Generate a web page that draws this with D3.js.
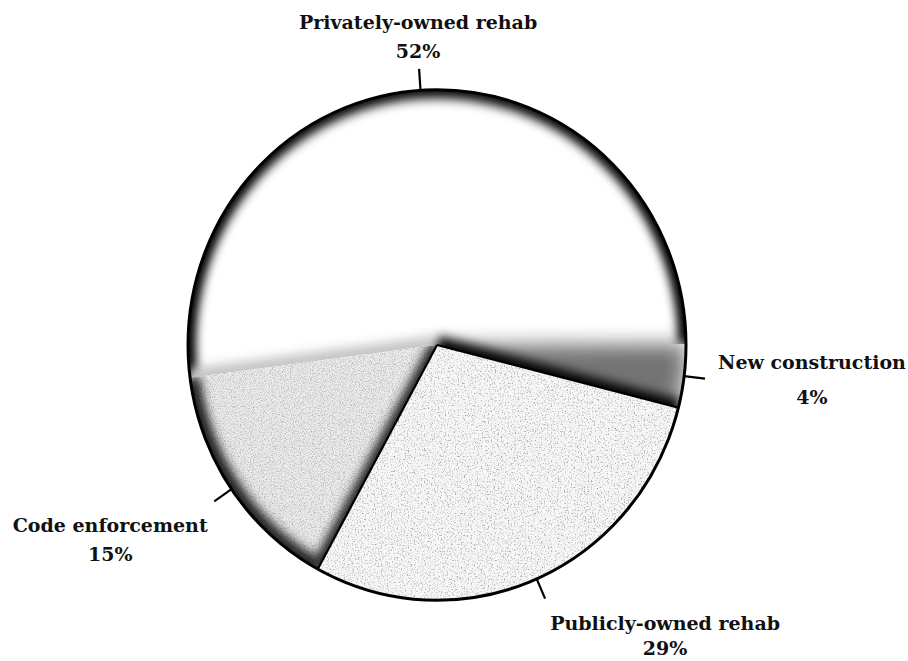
<!DOCTYPE html>
<html>
<head>
<meta charset="utf-8">
<script src="https://cdn.jsdelivr.net/npm/d3@7"></script>
<style>
  html, body { margin: 0; padding: 0; background: #fff; }
  svg { display: block; }
  .lbl { font-family: "DejaVu Serif", serif; font-weight: bold; font-size: 19px; fill: #111; }
</style>
</head>
<body>
<svg id="chart" width="908" height="661"></svg>
<script>
// Shares of units by program type (percent)
const categories = ["Privately-owned rehab", "New construction", "Publicly-owned rehab", "Code enforcement"];
const shares = [52, 4, 29, 15];
const shareLabels = ["52%", "4%", "29%", "15%"];

// Layout
const W = 908, H = 661;
const cx = 437, cy = 345, R = 249, squash = 1.025;
const startDeg = -97.4;
const tickLen = 21;
// label placement relative to each tick's outer end: [dx, dy, line gap]
const labelOffsets = [[-1, -40, 29], [107, -10, 35], [120, 31, 25], [-104, 31, 29]];

const svg = d3.select("#chart");
const defs = svg.append("defs");

const rad = d => d * Math.PI / 180;
const pie = d3.pie().sort(null).value(d => d)
  .startAngle(rad(startDeg)).endAngle(rad(startDeg) + 2 * Math.PI);
const arcs = pie(shares);
const arc = d3.arc().innerRadius(0).outerRadius(R);
const rim = d3.arc().innerRadius(R).outerRadius(R);
const pt = (a, r) => [r * Math.sin(a), -r * Math.cos(a)];

// Filters
function blurFilter(id, sd) {
  defs.append("filter").attr("id", id)
    .attr("x", "-50%").attr("y", "-50%").attr("width", "200%").attr("height", "200%")
    .append("feGaussianBlur").attr("stdDeviation", sd);
}
blurFilter("soft", 5);
blurFilter("softBig", 10);

function stipple(id, freq, k, b, grey, seed) {
  const f = defs.append("filter").attr("id", id)
    .attr("x", "0").attr("y", "0").attr("width", "100%").attr("height", "100%");
  f.append("feTurbulence").attr("type", "fractalNoise")
    .attr("baseFrequency", freq).attr("numOctaves", 3).attr("seed", seed).attr("result", "n");
  f.append("feColorMatrix").attr("in", "n").attr("type", "matrix")
    .attr("values", `0 0 0 0 ${grey}  0 0 0 0 ${grey}  0 0 0 0 ${grey}  ${k} 0 0 0 ${b}`);
}
stipple("dotsLight", 0.7, 3.0, -1.55, 0.35, 4);
stipple("dotsMid", 0.9, 2.6, -1.15, 0.45, 9);

// Clip paths for each slice
arcs.forEach((d, i) => {
  defs.append("clipPath").attr("id", "clip" + i)
    .append("path").attr("d", arc(d));
});
// union of private + new construction slices
defs.append("clipPath").attr("id", "clipPN")
  .append("path").attr("d", arc({ startAngle: arcs[0].startAngle, endAngle: arcs[1].endAngle }));

const g = svg.append("g").attr("transform", `translate(${cx},${cy}) scale(1,${squash})`);

// ---- Privately-owned rehab: white with shaded rim
const priv = arcs[0];
g.append("path").attr("d", arc(priv)).attr("fill", "#fff");
const gp = g.append("g").attr("clip-path", "url(#clip0)");
gp.append("path").attr("d", rim(priv)).attr("fill", "none")
  .attr("stroke", "#000").attr("stroke-width", 16).attr("filter", "url(#soft)");
// soft grey band along the edge shared with code enforcement
gp.append("line")
  .attr("x1", 0).attr("y1", 0)
  .attr("x2", pt(priv.startAngle, R)[0]).attr("y2", pt(priv.startAngle, R)[1])
  .attr("stroke", "#c4c4c4").attr("stroke-width", 18).attr("filter", "url(#soft)");

// ---- New construction: dark smeared wedge along the publicly-owned edge
const nc = arcs[1];
const gn = g.append("g").attr("clip-path", "url(#clipPN)");
gn.append("path").attr("d", arc(nc)).attr("fill", "#000").attr("opacity", 0.55)
  .attr("filter", "url(#softBig)");
gn.append("line")
  .attr("x1", 0).attr("y1", 0)
  .attr("x2", pt(nc.endAngle, R)[0]).attr("y2", pt(nc.endAngle, R)[1])
  .attr("stroke", "#000").attr("stroke-width", 18).attr("filter", "url(#soft)");

// ---- Publicly-owned rehab: light stipple
const pub = arcs[2];
g.append("path").attr("d", arc(pub)).attr("fill", "#f7f7f7");
g.append("g").attr("clip-path", "url(#clip2)")
  .append("rect").attr("x", -R).attr("y", -R).attr("width", 2 * R).attr("height", 2 * R)
  .attr("filter", "url(#dotsLight)");

// ---- Code enforcement: grey halftone with dark edges
const code = arcs[3];
g.append("path").attr("d", arc(code)).attr("fill", "#ececec");
const gc = g.append("g").attr("clip-path", "url(#clip3)");
gc.append("rect").attr("x", -R).attr("y", -R).attr("width", 2 * R).attr("height", 2 * R)
  .attr("filter", "url(#dotsMid)");
gc.append("path").attr("d", rim(code)).attr("fill", "none")
  .attr("stroke", "#222").attr("stroke-width", 20).attr("filter", "url(#soft)");
gc.append("line")
  .attr("x1", 0).attr("y1", 0)
  .attr("x2", pt(code.startAngle, R)[0]).attr("y2", pt(code.startAngle, R)[1])
  .attr("stroke", "#222").attr("stroke-width", 14).attr("filter", "url(#soft)");

// crisp edges of the publicly-owned slice
[pub.startAngle, pub.endAngle].forEach(a => {
  const p = pt(a, R);
  g.append("line").attr("x1", 0).attr("y1", 0).attr("x2", p[0]).attr("y2", p[1])
    .attr("stroke", "#000").attr("stroke-width", 2.2);
});

// outline
g.append("circle").attr("r", R).attr("fill", "none").attr("stroke", "#000").attr("stroke-width", 3);

// ticks and labels
arcs.forEach((d, i) => {
  const mid = (d.startAngle + d.endAngle) / 2;
  const a = pt(mid, R), b = pt(mid, R + tickLen);
  g.append("line").attr("x1", a[0]).attr("y1", a[1]).attr("x2", b[0]).attr("y2", b[1])
    .attr("stroke", "#000").attr("stroke-width", 2.2);
  const [dx, dy, gap] = labelOffsets[i];
  const tx = cx + b[0] + dx;
  const ty = cy + b[1] * squash + dy;
  const t = svg.append("text").attr("class", "lbl").attr("text-anchor", "middle")
    .attr("x", tx).attr("y", ty);
  t.append("tspan").attr("x", tx).text(categories[i]);
  t.append("tspan").attr("x", tx).attr("dy", gap).text(shareLabels[i]);
});
</script>
</body>
</html>
